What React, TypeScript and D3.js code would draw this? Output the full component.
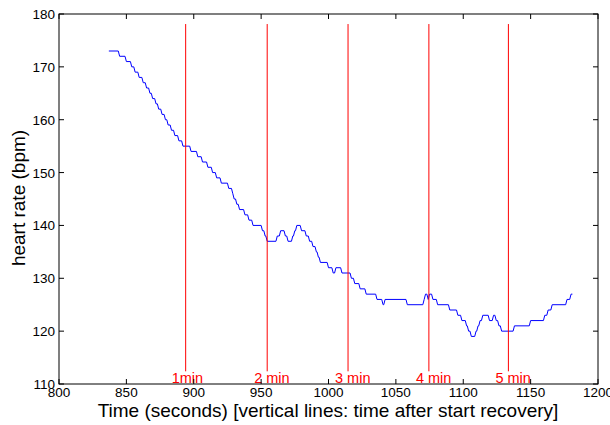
import React from 'react';
import * as d3 from 'd3';

// heart rate change points: time (s) at which the reading becomes bpm
const hrTime = [
  837, 845, 850, 854, 856.5, 859.5, 862.5, 865, 867.5, 869.5, 872, 874, 876.5, 879, 881, 883.5, 886, 889, 892,
  898, 903, 906.5, 910.5, 914, 917, 920.5, 926, 929, 930, 932, 934, 938, 941, 944, 951, 953, 954.5,
  962, 964.5, 968, 970, 973.5, 975, 976.5, 980, 983.5, 986, 988.5, 991, 992.5, 994,
  1000, 1003.5, 1005.5, 1010, 1017, 1019.5, 1023.5, 1028, 1036, 1040.5, 1042, 1058.5,
  1071, 1072, 1074, 1075, 1077.5, 1081, 1090, 1096, 1099, 1102.5, 1104, 1106, 1109.5, 1111, 1112.5, 1114.5,
  1119.5, 1122.5, 1124.5, 1126.5, 1128.5, 1138, 1150, 1160.5, 1163, 1166, 1177, 1180, 1181
];
const hrBpm = [
  173, 172, 171, 170, 169, 168, 167, 166, 165, 164, 163, 162, 161, 160, 159, 158, 157, 156, 155,
  154, 153, 152, 151, 150, 149, 148, 147, 146, 145, 144, 143, 142, 141, 140, 139, 138, 137,
  138, 139, 138, 137, 138, 139, 140, 139, 138, 137, 136, 135, 134, 133,
  132, 131, 132, 131, 130, 129, 128, 127, 126, 125, 126, 125,
  126, 127, 126, 127, 126, 125, 124, 123, 122, 121, 120, 119, 120, 121, 122, 123,
  122, 123, 122, 121, 120, 121, 122, 123, 124, 125, 126, 127, 127
];

// recovery markers
const markerTime = [894, 954.5, 1014.5, 1074.5, 1133.5];
const markerLabels = ['1min', '2 min', '3 min', '4 min', '5 min'];

const xTicks = [800, 850, 900, 950, 1000, 1050, 1100, 1150, 1200];
const yTicks = [110, 120, 130, 140, 150, 160, 170, 180];

const W = 610;
const H = 425;
const left = 59, right = 598, top = 14, bottom = 384;
const font = '"Liberation Sans", Arial, sans-serif';

export default function App() {
  const x = d3.scaleLinear().domain([800, 1200]).range([left, right]);
  const y = d3.scaleLinear().domain([110, 180]).range([bottom, top]);

  // each change is drawn as a 1 s ramp from the previous value
  const pts: [number, number][] = [];
  hrTime.forEach((t, i) => {
    if (i > 0 && t - 1 > hrTime[i - 1]) pts.push([t - 1, hrBpm[i - 1]]);
    pts.push([t, hrBpm[i]]);
  });
  const line = d3.line<[number, number]>().x(d => x(d[0])).y(d => y(d[1]));

  return (
    <svg width={W} height={H} style={{ position: 'absolute', left: 0, top: 0, background: '#fff' }}>
      <rect x={0} y={0} width={W} height={H} fill="#fff" />
      <path d={line(pts) || ''} fill="none" stroke="#0000ff" strokeWidth={1} />
      {markerTime.map((t, i) => (
        <g key={i}>
          <line x1={x(t)} x2={x(t)} y1={y(178.1)} y2={y(112.4)} stroke="#ff0000" strokeWidth={1} />
          <text x={x(t) - (i === 0 ? 14 : 13)} y={bottom - 1} fill="#ff0000" fontSize={14.5} fontFamily={font}>
            {markerLabels[i]}
          </text>
        </g>
      ))}
      <rect x={left} y={top} width={right - left} height={bottom - top} fill="none" stroke="#000" strokeWidth={1} />
      {xTicks.map(v => (
        <g key={v}>
          <line x1={x(v)} x2={x(v)} y1={bottom} y2={bottom - 5} stroke="#000" />
          <line x1={x(v)} x2={x(v)} y1={top} y2={top + 5} stroke="#000" />
          <text x={x(v)} y={bottom + 13} textAnchor="middle" fontSize={13.5} fontFamily={font} fill="#000">{v}</text>
        </g>
      ))}
      {yTicks.map(v => (
        <g key={v}>
          <line x1={left} x2={left + 5} y1={y(v)} y2={y(v)} stroke="#000" />
          <line x1={right} x2={right - 5} y1={y(v)} y2={y(v)} stroke="#000" />
          <text x={left - 4} y={y(v) + 5} textAnchor="end" fontSize={13.5} fontFamily={font} fill="#000">{v}</text>
        </g>
      ))}
      <text x={328} y={417} textAnchor="middle" fontSize={19} fontFamily={font} fill="#000">
        Time (seconds) [vertical lines: time after start recovery]
      </text>
      <text transform={`translate(25, ${198}) rotate(-90)`} textAnchor="middle" fontSize={19} fontFamily={font} fill="#000">
        heart rate (bpm)
      </text>
    </svg>
  );
}
